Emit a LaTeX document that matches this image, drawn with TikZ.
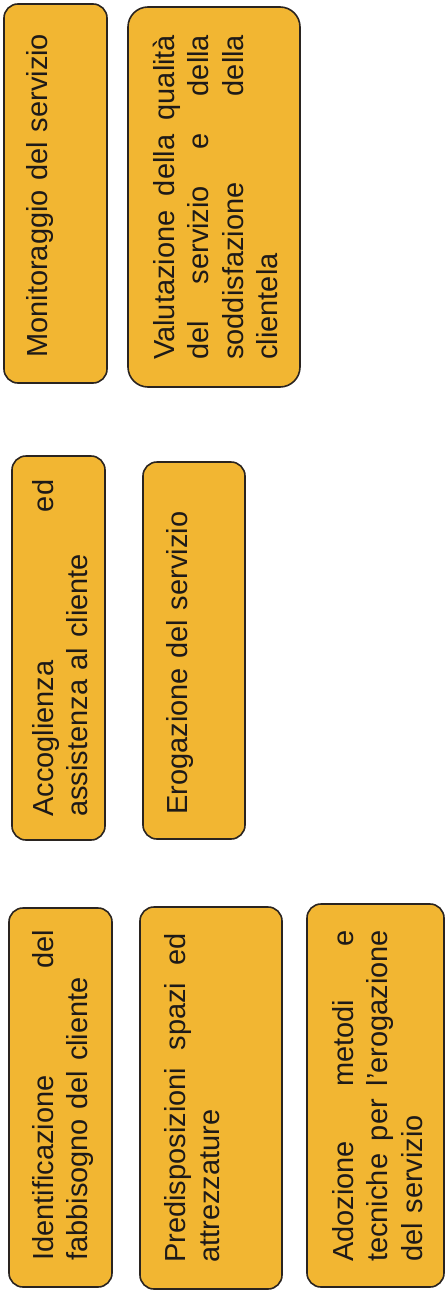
\documentclass[tikz,border=0pt]{standalone}
\usepackage{fontspec}
\setmainfont{Liberation Sans}
\definecolor{boxfill}{HTML}{F2B632}
\definecolor{boxline}{HTML}{2A2420}
\definecolor{txt}{HTML}{1E1A18}
\newcommand\jline[2]{\makebox[#1][s]{\spaceskip=0pt\xspaceskip=0pt\relax #2}}
\begin{document}
\begin{tikzpicture}[x=1pt,y=1pt,
  stepbox/.style={draw=boxline, line width=1.6pt, fill=boxfill, rounded corners=14pt, inner sep=0pt},
  label/.style={rotate=90, anchor=base west, inner sep=0pt, align=left, text=txt,
    font=\fontsize{29}{34.5}\selectfont}]
\useasboundingbox (0,0) rectangle (446,-1292);
\fill[white] (0,0) rectangle (446,-1292);
% boxes
\node[stepbox, minimum width=103pt, minimum height=379pt] (A) at (60.5,-1097.5) {};
\node[stepbox, minimum width=142pt, minimum height=382pt] (B) at (211,-1098) {};
\node[stepbox, minimum width=137pt, minimum height=383pt] (C) at (375.5,-1095.5) {};
\node[stepbox, minimum width=93pt, minimum height=384pt] (D) at (58.5,-648) {};
\node[stepbox, minimum width=102pt, minimum height=377pt] (E) at (194,-650.5) {};
\node[stepbox, minimum width=103pt, minimum height=379pt] (F) at (55.5,-193.5) {};
\node[stepbox, minimum width=172pt, minimum height=380pt, rounded corners=20pt] (G) at (214,-197) {};
% texts
\node[label, text width=331pt] (tA) at (53,-1261) {\jline{331pt}{Identificazione del}\\fabbisogno del cliente};
\node[label, text width=330pt] (tB) at (185,-1263) {\jline{330pt}{Predisposizioni spazi ed}\\attrezzature};
\node[label, text width=332pt] (tC) at (353,-1262) {\jline{332pt}{Adozione metodi e}\\\jline{332pt}{tecniche per l’erogazione}\\del servizio};
\node[label, text width=337pt] (tD) at (53,-817) {\jline{337pt}{Accoglienza ed}\\assistenza al cliente};
\node[label, text width=320pt] (tE) at (187,-815) {Erogazione del servizio};
\node[label, text width=330pt] (tF) at (47,-358) {Monitoraggio del servizio};
\node[label, text width=325pt] (tG) at (174,-360) {\jline{325pt}{Valutazione della qualità}\\\jline{325pt}{del servizio e della}\\\jline{325pt}{soddisfazione della}\\clientela};
\end{tikzpicture}
\end{document}
